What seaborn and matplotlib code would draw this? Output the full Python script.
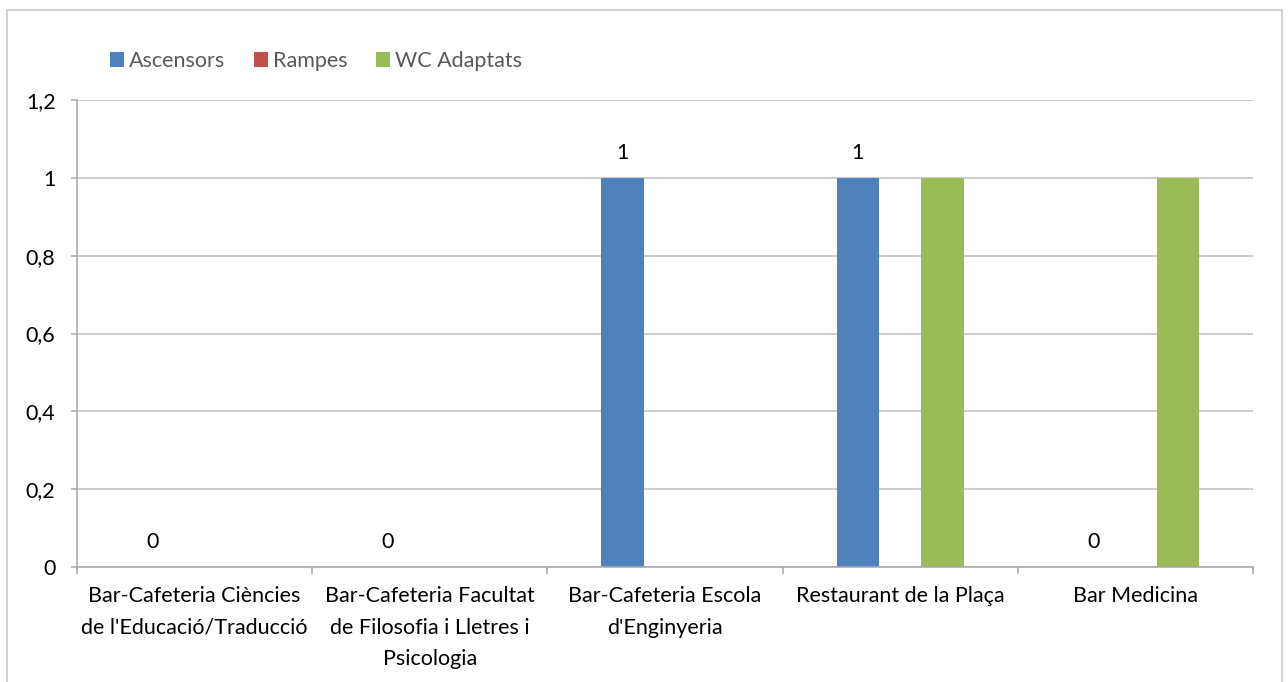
import matplotlib
matplotlib.use("Agg")
import matplotlib.pyplot as plt
from matplotlib.patches import Rectangle, Patch
from matplotlib.ticker import FixedLocator, FuncFormatter
import seaborn as sns
import pandas as pd

# Data
categories = [
    "Bar-Cafeteria Ciències\nde l'Educació/Traducció",
    "Bar-Cafeteria Facultat\nde Filosofia i Lletres i\nPsicologia",
    "Bar-Cafeteria Escola\nd'Enginyeria",
    "Restaurant de la Plaça",
    "Bar Medicina",
]
series = ["Ascensors", "Rampes", "WC Adaptats"]
ascensors = [0, 0, 1, 1, 0]
rampes = [0, 0, 0, 0, 0]
wc_adaptats = [0, 0, 0, 1, 1]
y_ticks = [0, 0.2, 0.4, 0.6, 0.8, 1.0, 1.2]

colors = ["#4F81BD", "#C0504D", "#9BBB59"]

df = pd.DataFrame({
    "Local": categories * 3,
    "Serie": [s for s in series for _ in categories],
    "Valor": ascensors + rampes + wc_adaptats,
})

sns.set_theme(style="white")
plt.rcParams["font.family"] = ["Lato", "DejaVu Sans"]
FS = 15.5

W, H = 1288, 682
fig = plt.figure(figsize=(W / 100, H / 100), dpi=100)
fig.patch.set_facecolor("white")

# Chart frame
fig.add_artist(Rectangle((7 / W, -0.05), 1275 / W, 1.05 - 10 / H,
                         transform=fig.transFigure, fill=False,
                         edgecolor="#C8C8C8", linewidth=1.2))

ax = fig.add_axes([77 / W, 1 - 567 / H, (1253 - 77) / W, (567 - 100) / H])

sns.barplot(data=df, x="Local", y="Valor", hue="Serie", palette=colors,
            hue_order=series, order=categories, width=0.54, saturation=1,
            linewidth=0, ax=ax, legend=False)

ax.set_ylim(0, 1.2)
ax.set_xlim(-0.5, len(categories) - 0.5)
ax.set_xlabel("")
ax.set_ylabel("")

grid_c = "#BFBFBF"
ax.yaxis.set_major_locator(FixedLocator(y_ticks))
ax.yaxis.set_major_formatter(FuncFormatter(lambda v, p: f"{v:g}".replace(".", ",")))
ax.grid(axis="y", color=grid_c, linewidth=1.1)
ax.set_axisbelow(True)

for s in ["top", "right"]:
    ax.spines[s].set_visible(False)
for s in ["left", "bottom"]:
    ax.spines[s].set_color("#A6A6A6")
    ax.spines[s].set_linewidth(1.1)

ax.tick_params(axis="y", which="major", left=True, length=4.5, width=1.1,
               color="#A6A6A6", pad=11, labelsize=FS, labelcolor="black")
ax.set_xticks(range(len(categories)))
ax.set_xticklabels(categories, fontsize=FS, color="black", linespacing=1.72)
ax.tick_params(axis="x", which="major", length=0, pad=14)
ax.xaxis.set_minor_locator(FixedLocator([i - 0.5 for i in range(len(categories) + 1)]))
ax.tick_params(axis="x", which="minor", bottom=True, length=5, width=1.1,
               color="#A6A6A6")

# Value labels for the Ascensors series
ax.bar_label(ax.containers[0], labels=[f"{v:g}" for v in ascensors],
             padding=11, fontsize=FS, color="black")

# Legend
handles = [Patch(facecolor=c, edgecolor="none") for c in colors]
fig.legend(handles, series, loc="center left",
           bbox_to_anchor=(110 / W, 1 - 61 / H), ncol=3, frameon=False,
           borderpad=0, borderaxespad=0,
           fontsize=FS, labelcolor="#595959", handlelength=0.65,
           handleheight=0.65, handletextpad=0.25, columnspacing=1.3)

fig.savefig("out.png", dpi=100, facecolor="white")
